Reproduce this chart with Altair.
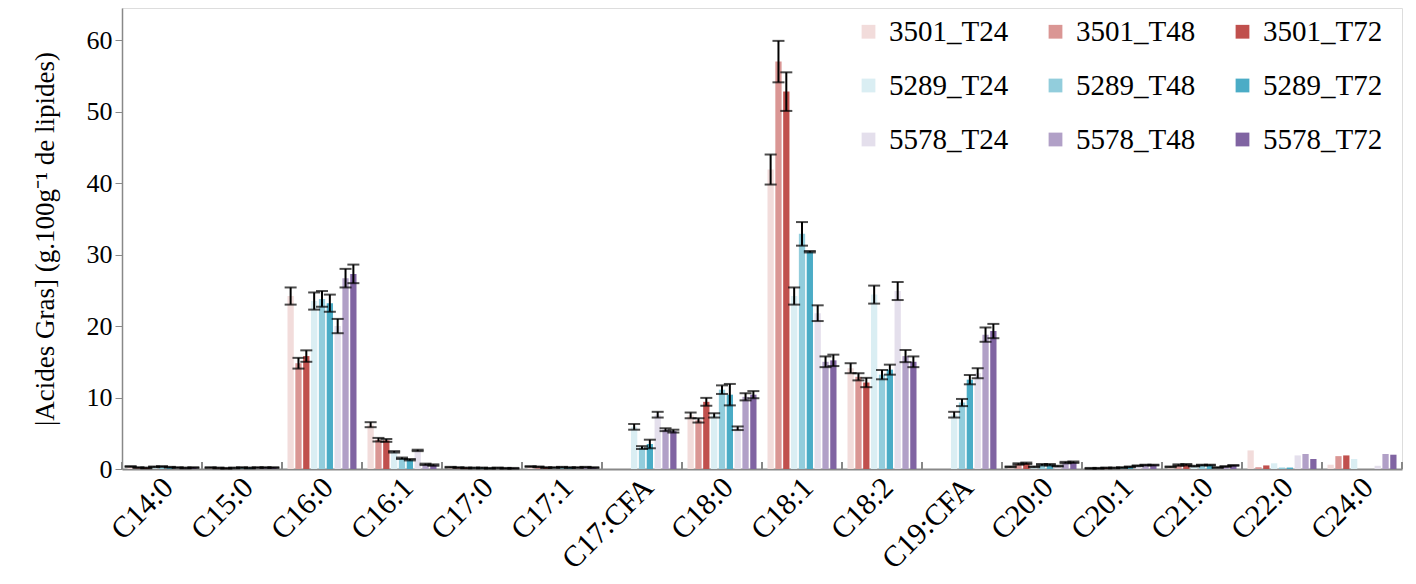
import altair as alt
import pandas as pd

cats = ["C14:0", "C15:0", "C16:0", "C16:1", "C17:0", "C17:1", "C17:CFA", "C18:0",
        "C18:1", "C18:2", "C19:CFA", "C20:0", "C20:1", "C21:0", "C22:0", "C24:0"]

series = ["3501_T24", "3501_T48", "3501_T72",
          "5289_T24", "5289_T48", "5289_T72",
          "5578_T24", "5578_T48", "5578_T72"]

colors = ["#F2DCDB", "#DA9694", "#C0504D",
          "#DAEEF3", "#92CDDC", "#4BACC6",
          "#E4DFEC", "#B1A0C7", "#8064A2"]

v_3501_T24 = [0.35, 0.2, 24.2, 6.2, 0.25, 0.35, 0, 7.5, 41.9, 14.1, 0, 0.3, 0.1, 0.3, 2.6, 0.6]
v_3501_T48 = [0.2, 0.15, 14.8, 4.1, 0.2, 0.3, 0, 6.8, 57.0, 12.9, 0, 0.7, 0.1, 0.55, 0.25, 1.8]
v_3501_T72 = [0.15, 0.1, 15.8, 4.0, 0.15, 0.2, 0, 9.4, 52.8, 12.1, 0, 0.8, 0.15, 0.6, 0.5, 1.9]
v_5289_T24 = [0.3, 0.15, 23.5, 2.4, 0.15, 0.2, 5.9, 7.5, 24.2, 24.4, 7.6, 0.3, 0.15, 0.4, 0.8, 1.4]
v_5289_T48 = [0.35, 0.2, 23.8, 1.5, 0.15, 0.25, 3.0, 11.1, 32.9, 13.2, 9.3, 0.6, 0.2, 0.55, 0.2, 0]
v_5289_T72 = [0.25, 0.15, 23.2, 1.3, 0.1, 0.2, 3.5, 10.4, 30.4, 13.9, 12.5, 0.6, 0.3, 0.55, 0.2, 0]
v_5578_T24 = [0.2, 0.2, 20.0, 2.6, 0.15, 0.2, 7.6, 5.7, 21.8, 24.9, 13.4, 0.4, 0.45, 0.2, 1.9, 0.45]
v_5578_T48 = [0.15, 0.2, 26.7, 0.65, 0.1, 0.25, 5.5, 10.1, 15.0, 15.8, 18.8, 0.9, 0.55, 0.35, 2.1, 2.1]
v_5578_T72 = [0.2, 0.2, 27.3, 0.55, 0.1, 0.2, 5.3, 10.4, 15.2, 15.0, 19.3, 0.95, 0.55, 0.5, 1.4, 2.0]

e_3501_T24 = [0.05, 0.05, 1.2, 0.35, 0.05, 0.05, None, 0.4, 2.1, 0.7, None, 0.05, 0.05, 0.05, None, None]
e_3501_T48 = [0.05, 0.05, 0.75, 0.25, 0.05, 0.05, None, 0.3, 2.9, 0.5, None, 0.1, 0.05, 0.1, None, None]
e_3501_T72 = [0.05, 0.05, 0.8, 0.2, 0.05, 0.05, None, 0.55, 2.7, 0.65, None, 0.1, 0.05, 0.1, None, None]
e_5289_T24 = [0.05, 0.05, 1.2, 0.1, 0.05, 0.05, 0.4, 0.3, 1.2, 1.26, 0.4, 0.05, 0.05, 0.05, None, None]
e_5289_T48 = [0.05, 0.05, 1.1, 0.1, 0.05, 0.05, 0.2, 0.6, 1.65, 0.65, 0.5, 0.1, 0.05, 0.05, None, None]
e_5289_T72 = [0.05, 0.05, 1.2, 0.1, 0.05, 0.05, 0.6, 1.5, 0.1, 0.7, 0.65, 0.1, 0.05, 0.05, None, None]
e_5578_T24 = [0.05, 0.05, 1.0, 0.1, 0.05, 0.05, 0.4, 0.25, 1.1, 1.26, 0.7, 0.05, 0.05, 0.05, None, None]
e_5578_T48 = [0.05, 0.05, 1.3, 0.1, 0.05, 0.05, 0.2, 0.5, 0.75, 0.85, 1.0, 0.1, 0.05, 0.05, None, None]
e_5578_T72 = [0.05, 0.05, 1.3, 0.1, 0.05, 0.05, 0.2, 0.5, 0.8, 0.75, 1.0, 0.1, 0.05, 0.05, None, None]

values = [v_3501_T24, v_3501_T48, v_3501_T72, v_5289_T24, v_5289_T48, v_5289_T72,
          v_5578_T24, v_5578_T48, v_5578_T72]
errors = [e_3501_T24, e_3501_T48, e_3501_T72, e_5289_T24, e_5289_T48, e_5289_T72,
          e_5578_T24, e_5578_T48, e_5578_T72]

rows = []
for s, vals, errs in zip(series, values, errors):
    for c, v, e in zip(cats, vals, errs):
        rows.append({"cat": c, "series": s, "value": v,
                     "lo": (v - e) if e is not None else None,
                     "hi": (v + e) if e is not None else None})
df = pd.DataFrame(rows)
ticks_df = pd.DataFrame({"cat": cats})

# legend is filled column by column: order the colour domain so rows read 3501 / 5289 / 5578
legend_order = [series[r * 3 + c] for c in range(3) for r in range(3)]
legend_colors = [colors[series.index(s)] for s in legend_order]

W, H = 1280, 461
FONT = "Liberation Serif"

xenc = alt.X("cat:N", sort=cats, title=None,
             scale=alt.Scale(paddingInner=0, paddingOuter=0),
             axis=alt.Axis(labelAngle=-45, labelAlign="right", labelBaseline="top",
                           labelFontSize=30, labelFont=FONT, labelColor="black",
                           ticks=False, domainColor="#888888", domainWidth=2,
                           labelPadding=3, labelOffset=-4))
xoff = alt.XOffset("series:N", sort=series,
                   scale=alt.Scale(paddingInner=0.2, paddingOuter=0.7))
yscale = alt.Scale(domain=[0, 64.5], nice=False)

bars = alt.Chart(df).mark_bar().encode(
    x=xenc,
    xOffset=xoff,
    y=alt.Y("value:Q", scale=yscale,
            title="|Acides Gras] (g.100g⁻¹ de lipides)",
            axis=alt.Axis(values=[0, 10, 20, 30, 40, 50, 60], grid=False,
                          labelFontSize=26, labelFont=FONT, labelColor="black",
                          titleFontSize=27, titleFont=FONT, titleFontWeight="normal",
                          titleColor="black", tickColor="#888888", tickSize=7,
                          domainColor="#888888", domainWidth=1.5, labelPadding=3,
                          titlePadding=27)),
    color=alt.Color("series:N",
                    scale=alt.Scale(domain=legend_order, range=legend_colors),
                    legend=alt.Legend(title=None, orient="none", legendX=732, legendY=9,
                                      columns=3, symbolType="square", symbolSize=190,
                                      symbolStrokeWidth=0, labelFontSize=29, labelFont=FONT,
                                      labelColor="black", columnPadding=32, rowPadding=24,
                                      labelOffset=6, padding=0)),
)

err_df = df.dropna(subset=["lo"])

err_rule = alt.Chart(err_df).mark_rule(color="black", strokeWidth=2).encode(
    x=alt.X("cat:N", sort=cats), xOffset=xoff,
    y=alt.Y("lo:Q", scale=yscale), y2="hi:Q")
cap_lo = alt.Chart(err_df).mark_tick(color="black", thickness=2, size=12).encode(
    x=alt.X("cat:N", sort=cats), xOffset=xoff, y=alt.Y("lo:Q", scale=yscale))
cap_hi = alt.Chart(err_df).mark_tick(color="black", thickness=2, size=12).encode(
    x=alt.X("cat:N", sort=cats), xOffset=xoff, y=alt.Y("hi:Q", scale=yscale))

xticks = alt.Chart(ticks_df).mark_rule(color="#888888", strokeWidth=2).encode(
    x=alt.X("cat:N", sort=cats, bandPosition=0),
    y=alt.value(H - 7), y2=alt.value(H))
xtick_end = alt.Chart(ticks_df.head(1)).mark_rule(color="#888888", strokeWidth=2).encode(
    x=alt.value(W), y=alt.value(H - 7), y2=alt.value(H))

chart = alt.layer(bars, err_rule, cap_lo, cap_hi, xticks, xtick_end).properties(
    width=W, height=H,
    autosize=alt.AutoSizeParams(type="none"),
    padding={"left": 114, "top": 0, "right": 6, "bottom": 107},
).configure_view(stroke=None).configure(font=FONT)

chart.save("out.html", embed_options={"renderer": "svg", "actions": False})
